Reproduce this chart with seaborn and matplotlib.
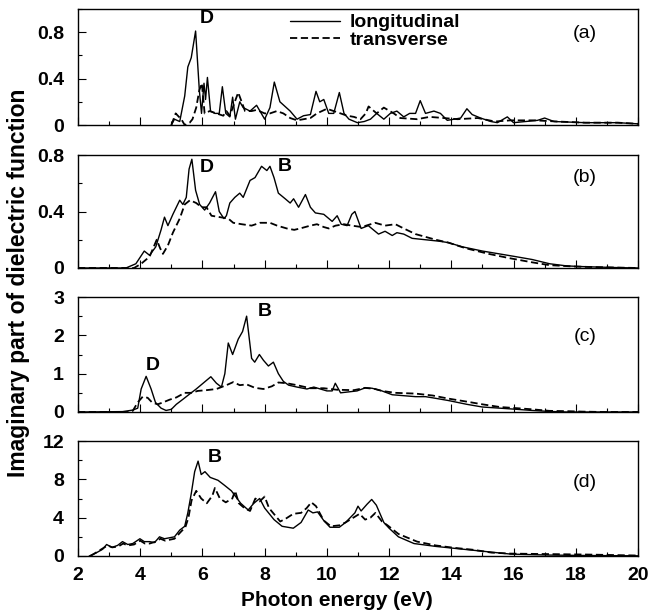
import numpy as np
import pandas as pd
import matplotlib
matplotlib.use('Agg')
import matplotlib.pyplot as plt
from matplotlib.lines import Line2D
from matplotlib.ticker import MultipleLocator
import seaborn as sns

# ---- panel (a) ----
a_E_long = [5.0, 5.1, 5.27, 5.43, 5.53, 5.64, 5.78, 5.9, 5.97, 6.05, 6.1, 6.16, 6.26,
            6.4, 6.54, 6.64, 6.75, 6.88, 6.97, 7.06, 7.2, 7.31, 7.53, 7.74, 8.0,
            8.17, 8.31, 8.49, 8.82, 9.04, 9.25, 9.47, 9.65, 9.77, 9.9, 10.06,
            10.22, 10.4, 10.55, 10.71, 10.98, 11.2, 11.4, 11.6, 11.83, 12.04,
            12.25, 12.47, 12.66, 12.85, 13.0, 13.17, 13.44, 13.65, 13.87, 14.3,
            14.5, 14.67, 14.94, 15.27, 15.48, 15.8, 16.0, 16.77, 17.0, 17.3,
            18.3, 19.35, 20.0]
a_long = [0.0, 0.05, 0.03, 0.25, 0.5, 0.58, 0.81, 0.3, 0.1, 0.36, 0.22, 0.41, 0.12,
          0.1, 0.1, 0.33, 0.1, 0.07, 0.24, 0.05, 0.2, 0.15, 0.12, 0.17, 0.05,
          0.15, 0.37, 0.2, 0.12, 0.05, 0.08, 0.09, 0.29, 0.2, 0.22, 0.1,
          0.1, 0.28, 0.1, 0.05, 0.02, 0.03, 0.05, 0.1, 0.05, 0.1,
          0.12, 0.07, 0.1, 0.1, 0.21, 0.1, 0.12, 0.1, 0.04, 0.06,
          0.14, 0.09, 0.06, 0.03, 0.02, 0.07, 0.02, 0.04, 0.06, 0.03,
          0.02, 0.02, 0.01]
a_E_tran = [5.0, 5.14, 5.21, 5.32, 5.43, 5.59, 5.68, 5.8, 5.9, 5.98, 6.07, 6.23,
            6.45, 6.67, 6.77, 6.88, 7.04, 7.15, 7.26, 7.37, 7.58, 7.74, 8.0,
            8.17, 8.39, 8.6, 8.82, 9.04, 9.25, 9.47, 9.68, 10.0, 10.22, 10.44,
            10.65, 10.87, 11.08, 11.25, 11.34, 11.6, 11.83, 12.15, 12.36,
            12.9, 13.3, 13.76, 14.2, 14.85, 15.4, 15.9, 16.7, 17.4, 18.3,
            19.35, 20.0]
a_tran = [0.0, 0.1, 0.08, 0.05, 0.0, 0.02, 0.05, 0.15, 0.3, 0.36, 0.1, 0.12,
          0.1, 0.08, 0.12, 0.08, 0.2, 0.28, 0.2, 0.12, 0.12, 0.13, 0.1,
          0.1, 0.12, 0.1, 0.06, 0.04, 0.05, 0.06, 0.1, 0.14, 0.12, 0.1,
          0.08, 0.07, 0.05, 0.1, 0.16, 0.1, 0.15, 0.1, 0.06,
          0.05, 0.07, 0.06, 0.05, 0.06, 0.03, 0.04, 0.04, 0.03, 0.02,
          0.02, 0.01]

# ---- panel (b) ----
b_E_long = [2.0, 3.54, 3.86, 4.13, 4.3, 4.5, 4.67, 4.78, 4.89, 5.05, 5.27, 5.37,
            5.48, 5.57, 5.66, 5.78, 5.91, 6.07, 6.23, 6.42, 6.54, 6.69, 6.77,
            6.88, 7.04, 7.2, 7.31, 7.53, 7.69, 7.9, 8.07, 8.17, 8.3, 8.44,
            8.66, 8.82, 8.93, 9.09, 9.31, 9.47, 9.63, 9.9, 10.17, 10.33, 10.46,
            10.65, 10.8, 10.9, 11.1, 11.33, 11.66, 11.87, 12.1, 12.25, 12.47,
            12.74, 13.17, 13.6, 13.9, 14.35, 15.0, 15.54, 16.08, 16.6, 17.16,
            17.7, 18.2, 19.3, 20.0]
b_long = [0.0, 0.0, 0.03, 0.12, 0.09, 0.15, 0.27, 0.36, 0.3, 0.38, 0.48, 0.45,
          0.5, 0.7, 0.77, 0.55, 0.45, 0.41, 0.46, 0.54, 0.4, 0.35, 0.37,
          0.46, 0.5, 0.53, 0.5, 0.62, 0.64, 0.72, 0.69, 0.72, 0.64, 0.53,
          0.49, 0.46, 0.49, 0.43, 0.52, 0.43, 0.39, 0.38, 0.33, 0.37, 0.31,
          0.3, 0.38, 0.4, 0.28, 0.3, 0.24, 0.26, 0.23, 0.25, 0.24,
          0.21, 0.2, 0.19, 0.18, 0.15, 0.12, 0.1, 0.08, 0.06, 0.03,
          0.015, 0.01, 0.003, 0.0]
b_E_tran = [2.0, 3.8, 4.03, 4.3, 4.53, 4.64, 4.73, 4.89, 5.05, 5.27, 5.43, 5.6,
            5.8, 5.97, 6.13, 6.29, 6.56, 6.83, 6.99, 7.26, 7.58, 7.85, 8.17,
            8.4, 8.71, 8.95, 9.14, 9.47, 9.68, 9.9, 10.06, 10.28, 10.55, 10.8,
            11.12, 11.55, 11.87, 12.2, 12.47, 12.85, 13.5, 13.9, 14.46, 15.2,
            15.86, 16.6, 17.16, 18.0, 18.9, 20.0]
b_tran = [0.0, 0.0, 0.03, 0.08, 0.2, 0.14, 0.1, 0.16, 0.25, 0.35, 0.45, 0.48,
          0.46, 0.43, 0.43, 0.37, 0.36, 0.35, 0.32, 0.31, 0.3, 0.32, 0.32,
          0.3, 0.28, 0.27, 0.28, 0.3, 0.31, 0.29, 0.28, 0.3, 0.31, 0.3,
          0.29, 0.32, 0.3, 0.31, 0.28, 0.24, 0.2, 0.18, 0.14, 0.1,
          0.07, 0.04, 0.02, 0.01, 0.005, 0.0]

# ---- panel (c) ----
c_E_long = [2.0, 3.43, 3.76, 3.92, 4.03, 4.19, 4.35, 4.49, 4.67, 4.83, 5.0, 5.16,
            5.37, 5.59, 5.8, 6.02, 6.27, 6.45, 6.61, 6.72, 6.83, 6.97, 7.15,
            7.29, 7.42, 7.58, 7.68, 7.83, 7.96, 8.12, 8.28, 8.44, 8.6, 8.77,
            9.04, 9.36, 9.58, 9.79, 10.0, 10.17, 10.27, 10.44, 10.65, 10.97,
            11.23, 11.45, 11.77, 12.1, 12.4, 12.85, 13.17, 13.4, 13.9, 14.5,
            15.0, 15.56, 16.1, 16.6, 17.15, 17.7, 20.0]
c_long = [0.0, 0.01, 0.05, 0.1, 0.6, 0.93, 0.6, 0.25, 0.1, 0.04, 0.07, 0.2,
          0.33, 0.47, 0.6, 0.75, 0.92, 0.75, 0.65, 1.0, 1.8, 1.5, 1.9,
          2.1, 2.5, 1.4, 1.3, 1.5, 1.35, 1.2, 1.3, 1.0, 0.8, 0.7,
          0.65, 0.6, 0.65, 0.6, 0.55, 0.55, 0.75, 0.5, 0.52, 0.55,
          0.63, 0.62, 0.55, 0.45, 0.43, 0.4, 0.4, 0.37, 0.3, 0.2,
          0.13, 0.1, 0.07, 0.04, 0.015, 0.0, 0.0]
c_E_tran = [2.0, 3.6, 3.76, 3.92, 4.08, 4.24, 4.38, 4.56, 4.73, 4.94, 5.16, 5.43,
            5.64, 5.85, 6.13, 6.45, 6.77, 6.99, 7.2, 7.42, 7.69, 7.96, 8.23,
            8.44, 8.71, 9.04, 9.47, 9.9, 10.33, 10.87, 11.23, 11.55, 11.77,
            12.2, 12.85, 13.4, 13.9, 14.5, 15.0, 15.56, 16.1, 16.6, 17.15,
            17.8, 18.2, 18.9, 20.0]
c_tran = [0.0, 0.0, 0.03, 0.25, 0.4, 0.37, 0.25, 0.2, 0.25, 0.32, 0.38, 0.5,
          0.5, 0.55, 0.57, 0.6, 0.7, 0.78, 0.7, 0.72, 0.63, 0.6, 0.67,
          0.77, 0.75, 0.7, 0.62, 0.62, 0.58, 0.57, 0.63, 0.6, 0.55,
          0.5, 0.48, 0.43, 0.35, 0.27, 0.2, 0.13, 0.1, 0.07, 0.03,
          0.02, 0.01, 0.0, 0.0]

# ---- panel (d) ----
d_E_long = [2.36, 2.57, 2.79, 2.92, 3.09, 3.27, 3.43, 3.6, 3.76, 3.99, 4.13, 4.3,
            4.46, 4.62, 4.78, 4.94, 5.1, 5.27, 5.43, 5.53, 5.64, 5.75, 5.86,
            5.96, 6.08, 6.25, 6.5, 6.7, 6.93, 7.23, 7.47, 7.65, 7.84, 8.0,
            8.3, 8.56, 8.92, 9.17, 9.4, 9.55, 9.7, 9.9, 10.1, 10.4, 10.6,
            10.9, 11.0, 11.1, 11.29, 11.44, 11.59, 11.83, 12.0, 12.3, 12.8,
            13.5, 14.1, 14.7, 15.3, 15.9, 17.1, 18.4, 20.0]
d_long = [0.0, 0.3, 0.7, 1.2, 0.9, 1.1, 1.5, 1.2, 1.3, 1.8, 1.5, 1.5,
          1.4, 2.0, 1.8, 1.9, 2.0, 2.7, 3.1, 4.5, 6.5, 8.8, 9.9,
          8.5, 8.8, 8.2, 7.9, 7.4, 6.8, 5.5, 4.8, 5.5, 6.0, 5.0,
          3.8, 3.1, 2.9, 3.5, 4.8, 4.5, 4.6, 3.7, 3.0, 3.0, 3.5,
          4.5, 5.2, 4.7, 5.4, 5.9, 5.3, 3.5, 2.9, 2.0, 1.3,
          1.0, 0.8, 0.6, 0.4, 0.2, 0.1, 0.05, 0.02]
d_E_tran = [2.4, 2.6, 2.8, 2.95, 3.1, 3.3, 3.45, 3.6, 3.8, 4.0, 4.15, 4.3,
            4.5, 4.65, 4.8, 4.95, 5.1, 5.3, 5.45, 5.55, 5.65, 5.8, 5.96,
            6.14, 6.32, 6.4, 6.56, 6.75, 6.96, 7.05, 7.17, 7.35, 7.53, 7.7,
            7.84, 8.0, 8.14, 8.32, 8.5, 8.68, 8.92, 9.17, 9.35, 9.5, 9.65,
            9.9, 10.13, 10.4, 10.6, 10.85, 11.05, 11.23, 11.4, 11.56, 11.77,
            11.95, 12.3, 12.9, 13.5, 14.1, 14.7, 15.3, 15.9, 17.1, 18.4, 20.0]
d_tran = [0.0, 0.4, 0.8, 1.1, 0.9, 1.0, 1.3, 1.1, 1.2, 1.6, 1.3, 1.3,
          1.5, 1.8, 1.6, 1.7, 1.8, 2.5, 3.0, 4.0, 5.8, 6.8, 6.0,
          5.5, 6.3, 7.1, 6.0, 5.6, 6.0, 6.8, 5.5, 5.0, 4.7, 6.0,
          5.7, 6.2, 5.0, 4.3, 3.6, 3.9, 4.4, 4.5, 5.0, 5.6, 5.2,
          3.7, 3.1, 3.2, 3.5, 4.0, 4.4, 3.8, 4.0, 4.5, 3.6,
          3.2, 2.3, 1.5, 1.1, 0.85, 0.65, 0.35, 0.25, 0.2, 0.15, 0.05]

panels = [
    (a_E_long, a_long, a_E_tran, a_tran, 1.0, 0.4, 0.2, '(a)'),
    (b_E_long, b_long, b_E_tran, b_tran, 0.8, 0.4, 0.2, '(b)'),
    (c_E_long, c_long, c_E_tran, c_tran, 3.0, 1.0, 0.5, '(c)'),
    (d_E_long, d_long, d_E_tran, d_tran, 12.0, 4.0, 2.0, '(d)'),
]
peak_labels = [
    [('D', 6.15, 0.92)],
    [('D', 6.15, 0.71), ('B', 8.65, 0.72)],
    [('D', 4.41, 1.2), ('B', 8.0, 2.61)],
    [('B', 6.4, 10.3)],
]
panel_text_pos = [0.79, 0.64, 1.96, 7.7]

sns.set_theme(style='white')
plt.rcParams['font.family'] = ['Liberation Sans', 'DejaVu Sans']
plt.rcParams['font.weight'] = 'bold'
for k in ['text.color', 'axes.labelcolor', 'xtick.color', 'ytick.color', 'axes.edgecolor']:
    plt.rcParams[k] = 'black'

fig = plt.figure(figsize=(6.49, 6.14), dpi=100)
# axes boxes in pixel rows (top, bottom)
rows = [(9, 125), (155, 268), (297, 412), (441, 556)]
left, right = 78 / 649, 638 / 649
axes = []
for top, bot in rows:
    axes.append(fig.add_axes([left, 1 - bot / 614, right - left, (bot - top) / 614]))

dash = (4, 2)
for i, (ax, p) in enumerate(zip(axes, panels)):
    el, yl, et, yt, ymax, maj, mnr, tag = p
    dl = pd.DataFrame({'E': el, 'eps': yl})
    dt = pd.DataFrame({'E': et, 'eps': yt})
    sns.lineplot(data=dl, x='E', y='eps', ax=ax, color='black', lw=1.0)
    sns.lineplot(data=dt, x='E', y='eps', ax=ax, color='black', lw=1.3,
                 linestyle=(0, dash))
    ax.set_xlim(2, 20)
    ax.set_ylim(0, ymax)
    ax.set_xlabel('')
    ax.set_ylabel('')
    ax.xaxis.set_major_locator(MultipleLocator(2))
    ax.xaxis.set_minor_locator(MultipleLocator(1))
    ax.yaxis.set_major_locator(MultipleLocator(maj))
    ax.yaxis.set_minor_locator(MultipleLocator(mnr))
    ax.tick_params(which='both', direction='in', bottom=True, left=True,
                   top=False, right=False, width=0.8, colors='black',
                   labelsize=14)
    ax.tick_params(axis='x', pad=8)
    ax.tick_params(axis='y', pad=10)
    ax.tick_params(which='major', length=6)
    ax.tick_params(which='minor', length=3)
    if maj < 1:
        ax.set_yticklabels([('0' if t == 0 else f'{t:.1f}') for t in ax.get_yticks()])
    for s in ax.spines.values():
        s.set_color('black')
        s.set_linewidth(1.0)
    if i < 3:
        ax.set_xticklabels([])
    for txt, x, y in peak_labels[i]:
        ax.text(x, y, txt, ha='center', va='center', fontsize=14, fontweight='bold')
    ax.text(18.3, panel_text_pos[i], tag, ha='center', va='center', fontsize=14,
            fontweight='normal')

axes[3].set_xlabel('Photon energy (eV)', fontsize=15, fontweight='bold')
axes[3].xaxis.set_label_coords(0.4625, -0.3)
fig.text(0.028, 0.54, 'Imaginary part of dielectric function', rotation=90,
         ha='center', va='center', fontsize=16.5, fontweight='bold')

handles = [Line2D([], [], color='black', lw=1.0),
           Line2D([], [], color='black', lw=1.3, linestyle=(0, dash))]
axes[0].legend(handles, ['longitudinal', 'transverse'], loc='upper left',
               bbox_to_anchor=(0.347, 1.11), frameon=False, handlelength=2.6,
               handletextpad=0.5, labelspacing=0.0,
               prop={'size': 14, 'weight': 'bold'})

fig.savefig('out.png', dpi=100)
